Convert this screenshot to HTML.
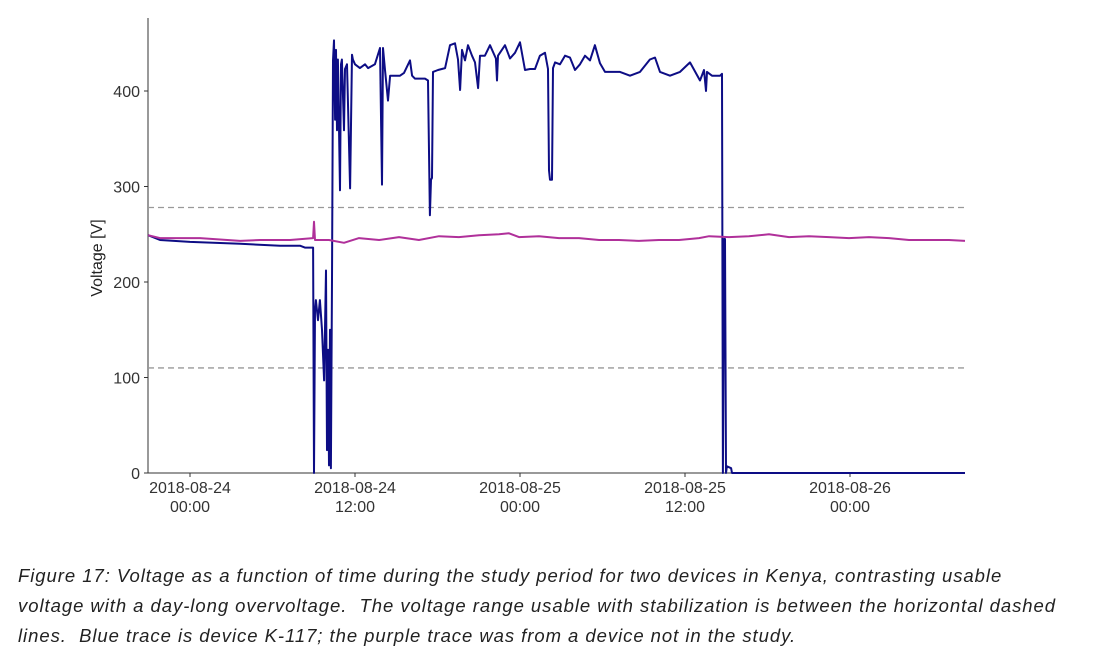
<!DOCTYPE html>
<html><head><meta charset="utf-8"><style>
body{margin:0;background:#fff;width:1093px;height:654px;overflow:hidden;font-family:"Liberation Sans",sans-serif}
#cap{position:absolute;left:18px;top:561px;font-style:italic;font-size:18.5px;letter-spacing:0.95px;line-height:30px;color:#222;width:1075px;white-space:nowrap}
</style></head><body>
<svg id="chart" width="1093" height="560" style="position:absolute;left:0;top:0"></svg>
<div id="cap">Figure 17: Voltage as a function of time during the study period for two devices in Kenya, contrasting usable<br>voltage with a day-long overvoltage.&nbsp; The voltage range usable with stabilization is between the horizontal dashed<br>lines.&nbsp; Blue trace is device K-117; the purple trace was from a device not in the study.</div>
<script>
// hours since 2018-08-24 00:00
const blueT=[-3.05,-2.18,0,3.64,6.55,8.0,8.36,8.95,9.02,9.09,
9.16,9.31,9.45,9.6,9.75,9.89,9.96,10.04,10.11,10.18,
10.25,10.33,10.4,10.47,10.55,10.62,10.69,10.76,10.91,10.98,
11.05,11.2,11.27,11.42,11.64,11.78,11.85,12.0,12.36,12.73,
12.95,13.45,13.82,13.96,14.04,14.18,14.4,14.55,14.91,15.27,
15.56,16.0,16.15,16.36,17.09,17.31,17.45,17.53,17.6,17.67,
18.04,18.55,18.91,19.27,19.49,19.64,19.78,20.0,20.22,20.51,
20.73,20.95,21.09,21.45,21.82,22.25,22.33,22.4,22.91,23.27,
23.64,24.0,24.36,24.73,25.09,25.45,25.82,26.04,26.11,26.18,
26.33,26.4,26.55,26.91,27.27,27.64,28.0,28.36,28.73,29.09,
29.45,29.82,30.18,31.27,32.0,32.73,33.45,33.82,34.18,34.91,
35.64,36.36,37.09,37.38,37.53,37.6,37.96,38.55,38.69,38.76,
38.84,38.91,38.98,39.05,39.35,39.42,56.36];
const blueV=[249,244,242,240,238,238,236,236,0,170,
181,160,181,150,97,212,24,129,8,150,
5,202,432,453,370,443,359,433,296,428,
433,359,423,428,298,438,433,428,424,428,
424,428,445,302,445,422,390,416,416,416,
419,432,416,413,413,411,270,307,309,420,
422,424,448,450,433,401,443,432,448,437,
430,403,437,437,448,434,411,437,448,434,
440,451,422,423,423,437,440,423,317,307,
307,424,430,428,437,435,422,428,437,432,
448,429,420,420,416,420,433,435,420,416,
420,430,411,422,400,420,416,416,418,0,
245,245,0,7,5,0,0];
const purpT=[-3.05,-2.18,0.73,3.64,5.09,7.27,8.95,9.02,9.09,10.11,11.2,12.29,13.75,15.2,16.65,18.11,19.56,21.02,22.47,23.2,23.93,25.38,26.84,28.29,29.75,31.2,32.65,34.11,35.56,37.02,37.75,39.2,40.65,42.11,43.56,45.02,46.47,47.93,49.38,50.84,52.29,53.75,55.2,56.36];
const purpV=[249,246,246,243,244,244,246,263,244,244,241,246,244,247,244,248,247,249,250,251,247,248,246,246,244,244,243,244,244,246,248,247,248,250,247,248,247,246,247,246,244,244,244,243];
const yTicks=[0,100,200,300,400];
const xTicks=[0,12,24,36,48];
const xTickL1=["2018-08-24","2018-08-24","2018-08-25","2018-08-25","2018-08-26"];
const xTickL2=["00:00","12:00","00:00","12:00","00:00"];
const limits=[110,278];
const NS="http://www.w3.org/2000/svg",svg=document.getElementById("chart");
const X=h=>190+h*13.75, Y=v=>473-v*0.955;
function mk(t,a,p){const e=document.createElementNS(NS,t);for(const k in a)e.setAttribute(k,a[k]);(p||svg).appendChild(e);return e;}
let ax=mk("line",{x1:148,y1:473,x2:965,y2:473,stroke:"#333","stroke-width":1});


let ay=mk("line",{x1:148,y1:18,x2:148,y2:473,stroke:"#333","stroke-width":1});


yTicks.forEach(v=>{
 let t=mk("line",{x1:144,y1:Y(v),x2:148,y2:Y(v),stroke:"#333"});
 
 
 let l=mk("text",{x:140,y:Y(v)+6,"text-anchor":"end","font-size":16,fill:"#333"});l.textContent=v;
 
 
});
xTicks.forEach((h,i)=>{
 let t=mk("line",{x1:X(h),y1:473,x2:X(h),y2:477,stroke:"#333"});
 
 
 let l=mk("text",{x:X(h),y:493,"text-anchor":"middle","font-size":16,fill:"#333"});l.textContent=xTickL1[i];
 
 
 let l2=mk("text",{x:X(h),y:512,"text-anchor":"middle","font-size":16,fill:"#333"});l2.textContent=xTickL2[i];
 
 
});
let yt=mk("text",{x:0,y:0,transform:"translate(102,258) rotate(-90)","text-anchor":"middle","font-size":16,fill:"#222"});yt.textContent="Voltage [V]";


limits.forEach(v=>{
 let d=mk("line",{x1:148,y1:Y(v),x2:965,y2:Y(v),stroke:"#999","stroke-width":1.3,"stroke-dasharray":"6,4"});
 
 
});
function path(T,V,c,name){
 let d=T.map((t,i)=>(i?"L":"M")+X(t).toFixed(1)+","+Y(V[i]).toFixed(1)).join("");
 let p=mk("path",{d:d,fill:"none",stroke:c,"stroke-width":2,"stroke-linejoin":"round"});
 
 
}
path(blueT,blueV,"#0d0d85","series-k117");
path(purpT,purpV,"#b0309a","series-other-device");
</script>
</body></html>
